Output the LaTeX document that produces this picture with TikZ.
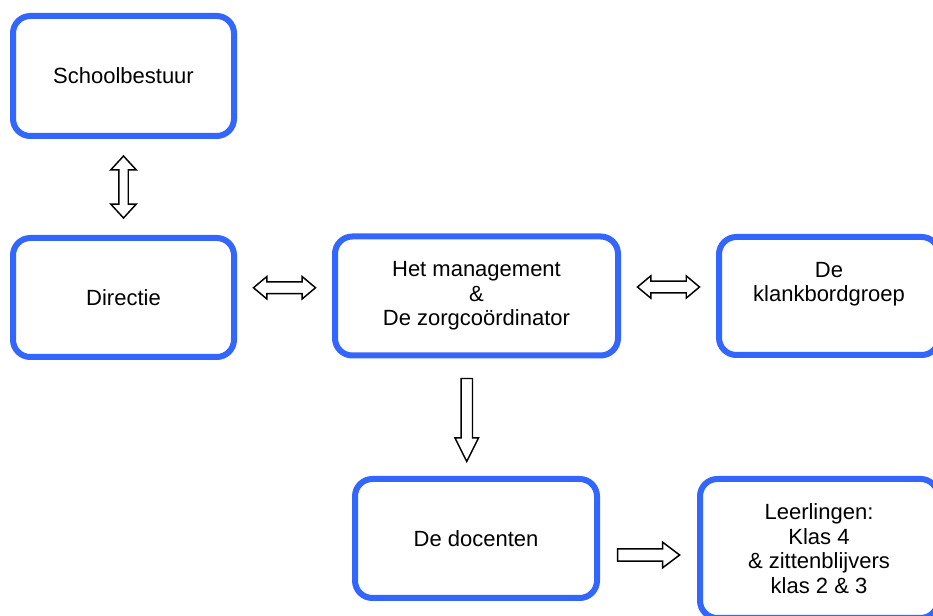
\documentclass[tikz,border=0pt]{standalone}
\usepackage{fontspec}
\setmainfont{Liberation Sans}
\usepackage{xcolor}
\usetikzlibrary{shapes.arrows}
\usetikzlibrary{calc}
\definecolor{vakblauw}{RGB}{51,102,255}

\begin{document}
\begin{tikzpicture}[x=0.75pt, y=-0.75pt, font=\fontsize{16.5}{18.4}\selectfont]
\tikzstyle{vak} = [draw=vakblauw, line width=4.5pt, rounded corners=13pt, fill=white, align=center, inner sep=0pt]
\tikzstyle{pijl} = [draw=black, fill=white, line width=1.1pt, inner xsep=0pt, minimum width=0pt, minimum height=46.5pt]

\useasboundingbox (0,0) rectangle (933,616);

\node[vak, minimum width=165.75pt, minimum height=90pt] (A) at (123.5,76) {Schoolbestuur};
\node[vak, minimum width=165.75pt, minimum height=89.25pt] (B) at (123.5,297.5) {Directie};
\node[vak, minimum width=212.25pt, minimum height=89.25pt] (C) at (476.5,296) {Het management\\\&\\De zorgco\"ordinator};
\node[vak, minimum width=165pt, minimum height=88.5pt, text depth=21pt] (D) at (829,296) {De\\klankbordgroep};
\node[vak, minimum width=181.5pt, minimum height=89.25pt] (E) at (476,538.5) {De docenten};
\node[vak, minimum width=178.5pt, minimum height=104.25pt] (F) at (819,548.5) {Leerlingen:\\Klas 4\\\& zittenblijvers\\klas 2 \& 3};

% blokpijlen
\node[pijl, double arrow, rotate=90, inner ysep=3pt, double arrow head extend=6pt, double arrow tip angle=85] (P1) at ($(A.south)!0.5!(B.north)$) {};
\node[pijl, double arrow, inner ysep=3.9pt, double arrow head extend=3.9pt, double arrow tip angle=80] (P2) at ($(B.east)!0.5!(C.west)+(0,-9)$) {};
\node[pijl, double arrow, inner ysep=3.9pt, double arrow head extend=3.9pt, double arrow tip angle=80] (P3) at ($(C.east)!0.5!(D.west)+(0,-9)$) {};
\node[pijl, single arrow, rotate=-90, minimum height=62.25pt, inner ysep=3.75pt, single arrow head extend=4.5pt, single arrow tip angle=53] (P4) at ($(C.south)!0.5!(E.north)+(-9.5,-3)$) {};
\node[pijl, single arrow, inner ysep=4.1pt, single arrow head extend=4.9pt, single arrow tip angle=74] (P5) at ($(E.east)!0.5!(F.west)+(-4,11.5)$) {};

\end{tikzpicture}
\end{document}
